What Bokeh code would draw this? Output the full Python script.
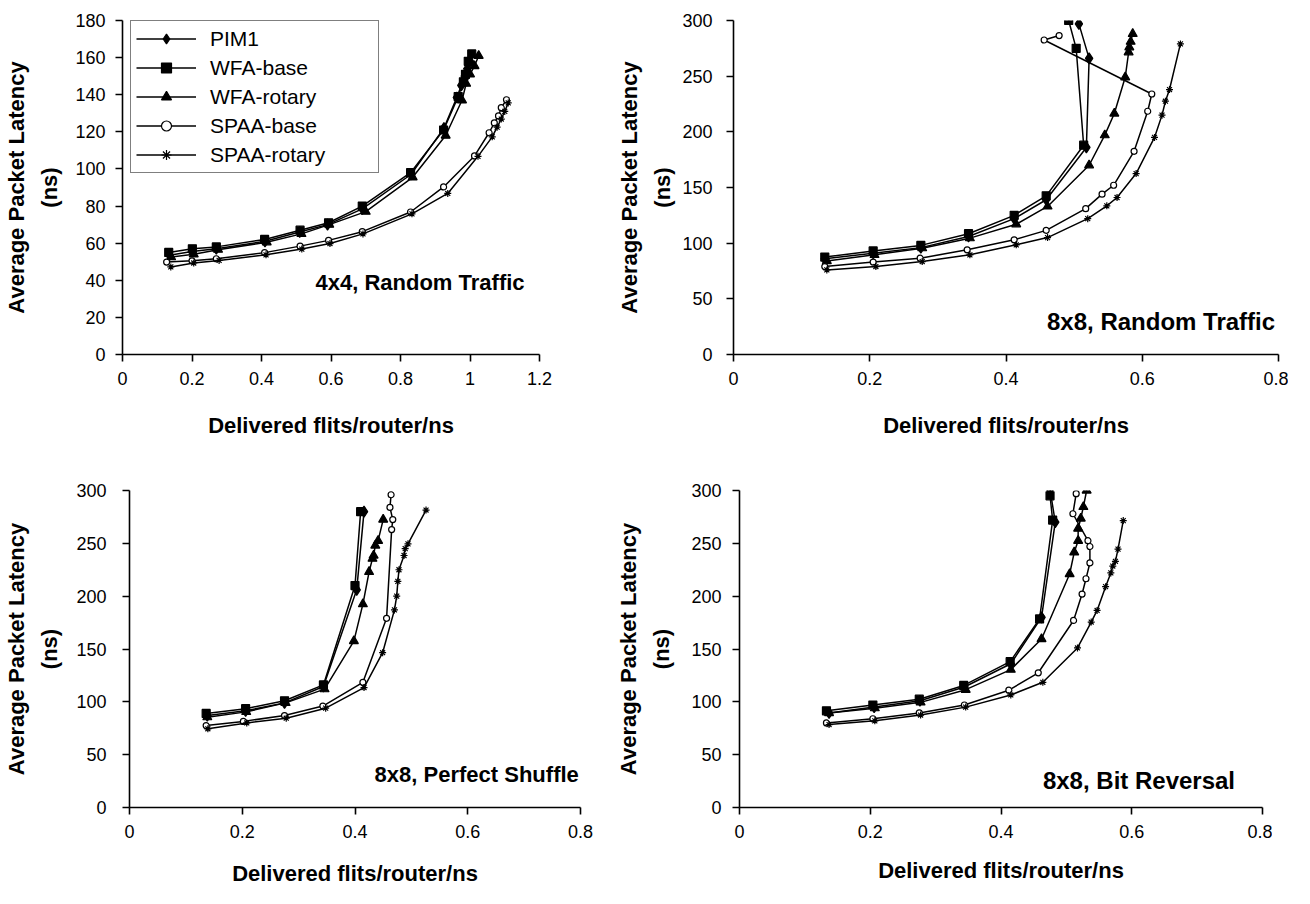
from bokeh.plotting import figure
from bokeh.layouts import column, row
from bokeh.models import Range1d, FixedTicker, Legend, LegendItem, Label
from bokeh.embed import file_html
from bokeh.resources import INLINE

FONT = "Liberation Sans"
SERIES = ["PIM1", "WFA-base", "WFA-rotary", "SPAA-base", "SPAA-rotary"]

# ---------------- data: 4x4, Random Traffic ----------------
rt4_pim1_x = [0.135, 0.2, 0.27, 0.41, 0.51, 0.59, 0.69, 0.83, 0.925, 0.962, 0.975, 0.985, 0.992, 1.0]
rt4_pim1_y = [53.5, 55.5, 57, 61, 66, 70, 78.5, 97, 122, 138.5, 145, 150, 154, 158]
rt4_wfab_x = [0.133, 0.201, 0.27, 0.409, 0.511, 0.593, 0.69, 0.829, 0.924, 0.966, 0.981, 0.987, 0.995, 1.005]
rt4_wfab_y = [55, 57, 58, 62, 67, 71, 80, 98, 121, 139, 147, 151, 158, 162]
rt4_wfar_x = [0.14, 0.205, 0.275, 0.415, 0.515, 0.595, 0.7, 0.835, 0.93, 0.977, 0.989, 1.0, 1.013, 1.025]
rt4_wfar_y = [52.5, 54, 56.5, 60.5, 65, 70, 77, 95.5, 118, 137, 146, 151, 155.5, 161]
rt4_spab_x = [0.127, 0.2, 0.27, 0.409, 0.511, 0.593, 0.69, 0.829, 0.924, 1.013, 1.055, 1.07, 1.082, 1.09, 1.105]
rt4_spab_y = [49.8, 50.5, 51.6, 54.9, 58.4, 61.5, 66.2, 76.8, 90.3, 107, 119.5, 124.8, 128.6, 133, 137.3]
rt4_spar_x = [0.139, 0.205, 0.278, 0.413, 0.516, 0.597, 0.692, 0.833, 0.936, 1.023, 1.064, 1.078, 1.09, 1.1, 1.11]
rt4_spar_y = [47.2, 49.3, 50.7, 53.7, 56.8, 59.8, 65, 75.8, 86.8, 106.8, 117.3, 122.5, 126.9, 131, 135.6]

# ---------------- data: 8x8, Random Traffic ----------------
rt8_pim1_x = [0.134, 0.205, 0.275, 0.345, 0.412, 0.459, 0.518, 0.522, 0.507]
rt8_pim1_y = [86, 91, 96, 106, 122, 139, 186, 266, 297]
rt8_wfab_x = [0.134, 0.205, 0.275, 0.345, 0.412, 0.459, 0.514, 0.503, 0.492]
rt8_wfab_y = [87.5, 93, 98, 108.5, 125, 142.5, 188, 275, 300]
rt8_wfar_x = [0.137, 0.207, 0.277, 0.347, 0.415, 0.461, 0.522, 0.545, 0.559, 0.575, 0.58, 0.581, 0.583, 0.586]
rt8_wfar_y = [84, 89.5, 95.5, 104.5, 117, 133, 170, 197, 216.5, 249, 271.5, 276, 281, 288]
rt8_spab_x = [0.134, 0.205, 0.274, 0.343, 0.412, 0.459, 0.517, 0.541, 0.558, 0.588, 0.608, 0.614, 0.456, 0.478]
rt8_spab_y = [79, 83, 86.5, 94, 103, 111.5, 131, 144, 152, 182.5, 218.5, 234, 282.5, 286.5]
rt8_spar_x = [0.137, 0.209, 0.277, 0.347, 0.415, 0.461, 0.52, 0.548, 0.563, 0.591, 0.618, 0.629, 0.634, 0.64, 0.656]
rt8_spar_y = [76, 79, 83.5, 89.5, 98.5, 105, 122, 133.5, 141, 162.5, 195, 215, 227.5, 238, 279]

# ---------------- data: 8x8, Perfect Shuffle ----------------
ps8_pim1_x = [0.138, 0.206, 0.275, 0.344, 0.403, 0.416]
ps8_pim1_y = [87, 91.5, 99, 114.5, 206, 280]
ps8_wfab_x = [0.136, 0.206, 0.275, 0.344, 0.4, 0.41]
ps8_wfab_y = [89, 93.5, 101, 116, 210, 280]
ps8_wfar_x = [0.138, 0.207, 0.277, 0.346, 0.398, 0.414, 0.425, 0.431, 0.433, 0.436, 0.441, 0.45]
ps8_wfar_y = [85.5, 90.5, 99, 112, 157.5, 192.5, 223, 235.5, 238.5, 248, 252.5, 272.5]
ps8_spab_x = [0.136, 0.202, 0.275, 0.343, 0.414, 0.456, 0.465, 0.467, 0.462, 0.464]
ps8_spab_y = [77.5, 81.5, 87, 96, 118.5, 179, 263, 272.5, 284, 296]
ps8_spar_x = [0.139, 0.208, 0.278, 0.348, 0.416, 0.449, 0.47, 0.474, 0.476, 0.478, 0.487, 0.489, 0.494, 0.526]
ps8_spar_y = [74.5, 80, 84.5, 94, 113.5, 146.5, 187, 200, 214, 225, 238.5, 245, 249.5, 281.5]

# ---------------- data: 8x8, Bit Reversal ----------------
br8_pim1_x = [0.137, 0.206, 0.276, 0.344, 0.415, 0.462, 0.483, 0.475]
br8_pim1_y = [89.5, 95, 101, 114, 136, 180, 270, 301]
br8_wfab_x = [0.133, 0.204, 0.275, 0.343, 0.414, 0.459, 0.479, 0.475]
br8_wfab_y = [91.5, 97, 102.5, 115.5, 138, 178.5, 272, 295]
br8_wfar_x = [0.137, 0.207, 0.277, 0.346, 0.415, 0.462, 0.505, 0.512, 0.518, 0.518, 0.522, 0.526, 0.531]
br8_wfar_y = [89.5, 94, 99.5, 111.5, 130.5, 159.5, 221, 241.5, 252.5, 264, 273.5, 284.5, 300]
br8_spab_x = [0.133, 0.204, 0.275, 0.344, 0.412, 0.457, 0.511, 0.524, 0.53, 0.536, 0.536, 0.533, 0.51, 0.515]
br8_spab_y = [80, 84, 89.5, 97, 111, 127.5, 177, 202, 216.5, 231.5, 247, 252.5, 278, 297]
br8_spar_x = [0.137, 0.207, 0.277, 0.346, 0.415, 0.464, 0.517, 0.538, 0.547, 0.56, 0.568, 0.571, 0.575, 0.579, 0.587]
br8_spar_y = [78.5, 82, 87.5, 95, 106.5, 118.5, 151, 175.5, 186.5, 209, 222, 228.5, 233, 244.5, 271.5]

# ---------------- ticks ----------------
x_ticks_4x4 = [0, 0.2, 0.4, 0.6, 0.8, 1.0, 1.2]
x_labels_4x4 = ["0", "0.2", "0.4", "0.6", "0.8", "1", "1.2"]
y_ticks_4x4 = [0, 20, 40, 60, 80, 100, 120, 140, 160, 180]
y_labels_4x4 = ["0", "20", "40", "60", "80", "100", "120", "140", "160", "180"]
x_ticks_8x8 = [0, 0.2, 0.4, 0.6, 0.8]
x_labels_8x8 = ["0", "0.2", "0.4", "0.6", "0.8"]
y_ticks_8x8 = [0, 50, 100, 150, 200, 250, 300]
y_labels_8x8 = ["0", "50", "100", "150", "200", "250", "300"]

X_TITLE = "Delivered flits/router/ns"
Y_TITLE = "Average Packet Latency\n(ns)"

MARK = {
    "PIM1": ("diamond", 11, "black"),
    "WFA-base": ("square", 8, "black"),
    "WFA-rotary": ("triangle", 9, "black"),
    "SPAA-base": ("circle", 6, "white"),
    "SPAA-rotary": ("asterisk", 7, "black"),
}


def panel(width, height, bl, br, bt, bb, xmax, ymax, xt, xl, yt, yl, data,
          note, nx, ny, nsize, ylab_standoff, ytick_standoff, xlab_standoff):
    p = figure(width=width, height=height, output_backend="svg", toolbar_location=None,
               x_range=Range1d(0, xmax), y_range=Range1d(0, ymax),
               min_border_left=bl, min_border_right=br, min_border_top=bt, min_border_bottom=bb)
    p.outline_line_color = None
    p.grid.visible = False
    p.background_fill_color = "white"
    p.border_fill_color = "white"
    p.xaxis.ticker = FixedTicker(ticks=xt)
    p.yaxis.ticker = FixedTicker(ticks=yt)
    p.xaxis.major_label_overrides = {v: s for v, s in zip(xt, xl)}
    p.yaxis.major_label_overrides = {v: s for v, s in zip(yt, yl)}
    for ax in (p.xaxis, p.yaxis):
        ax.axis_line_width = 1.6
        ax.axis_line_color = "black"
        ax.major_tick_line_width = 1.6
        ax.major_tick_line_color = "black"
        ax.major_tick_in = 0
        ax.major_tick_out = 7
        ax.minor_tick_line_color = None
        ax.major_label_text_font = FONT
        ax.major_label_text_font_size = "18px"
        ax.major_label_text_color = "black"
        ax.axis_label_text_font = FONT
        ax.axis_label_text_font_size = "22px"
        ax.axis_label_text_font_style = "bold"
        ax.axis_label_text_color = "black"
    p.xaxis.axis_label = X_TITLE
    p.xaxis.major_label_standoff = 10
    p.xaxis.axis_label_standoff = xlab_standoff
    p.yaxis.axis_label = Y_TITLE
    p.yaxis.axis_label_text_line_height = 1.35
    p.yaxis.major_label_standoff = ytick_standoff
    p.yaxis.axis_label_standoff = ylab_standoff

    rends = {}
    for name, (xs, ys) in zip(SERIES, data):
        m, s, fill = MARK[name]
        lr = p.line(xs, ys, line_color="black", line_width=1.5)
        sr = p.scatter(xs, ys, marker=m, size=s, fill_color=fill, line_color="black", line_width=1.2)
        rends[name] = [lr, sr]

    p.add_layout(Label(x=nx, y=ny, text=note, text_align="right", text_baseline="middle",
                       text_font=FONT, text_font_size=nsize, text_font_style="bold",
                       text_color="black"))
    return p, rends


p1, r1 = panel(612, 462, 113, 73, 9, 108, 1.2, 180, x_ticks_4x4, x_labels_4x4, y_ticks_4x4, y_labels_4x4,
               [(rt4_pim1_x, rt4_pim1_y), (rt4_wfab_x, rt4_wfab_y), (rt4_wfar_x, rt4_wfar_y),
                (rt4_spab_x, rt4_spab_y), (rt4_spar_x, rt4_spar_y)],
               "4x4, Random Traffic", 1.157, 38.6, "22px", 10, 10, 25)

legend = Legend(items=[LegendItem(label=n, renderers=r1[n]) for n in SERIES],
                location=(8, 181), orientation="vertical",
                label_text_font=FONT, label_text_font_size="21px", label_text_color="black",
                label_text_baseline="middle",
                glyph_width=60, glyph_height=25, label_height=25, label_width=163,
                label_standoff=14, spacing=4, padding=5, margin=0,
                border_line_color="black", border_line_width=1.2,
                background_fill_color="white", background_fill_alpha=1.0)
p1.add_layout(legend)

p2, _ = panel(676, 462, 121, 10, 20, 107, 0.8, 300, x_ticks_8x8, x_labels_8x8, y_ticks_8x8, y_labels_8x8,
              [(rt8_pim1_x, rt8_pim1_y), (rt8_wfab_x, rt8_wfab_y), (rt8_wfar_x, rt8_wfar_y),
               (rt8_spab_x, rt8_spab_y), (rt8_spar_x, rt8_spar_y)],
              "8x8, Random Traffic", 0.795, 29.6, "24px", 4, 14, 25)

p3, _ = panel(612, 426, 119, 32, 20, 80, 0.8, 300, x_ticks_8x8, x_labels_8x8, y_ticks_8x8, y_labels_8x8,
              [(ps8_pim1_x, ps8_pim1_y), (ps8_wfab_x, ps8_wfab_y), (ps8_wfar_x, ps8_wfar_y),
               (ps8_spab_x, ps8_spab_y), (ps8_spar_x, ps8_spar_y)],
              "8x8, Perfect Shuffle", 0.797, 31.3, "22px", 11, 16, 20)

p4, _ = panel(660, 426, 126, 10, 28, 76, 0.8, 300, x_ticks_8x8, x_labels_8x8, y_ticks_8x8, y_labels_8x8,
              [(br8_pim1_x, br8_pim1_y), (br8_wfab_x, br8_wfab_y), (br8_wfar_x, br8_wfar_y),
               (br8_spab_x, br8_spab_y), (br8_spar_x, br8_spar_y)],
              "8x8, Bit Reversal", 0.758, 26, "24px", 14, 11, 17)

layout = column(row(p1, p2, spacing=0), row(p3, p4, spacing=0), spacing=0)

open("out.html", "w").write(file_html(layout, INLINE))
